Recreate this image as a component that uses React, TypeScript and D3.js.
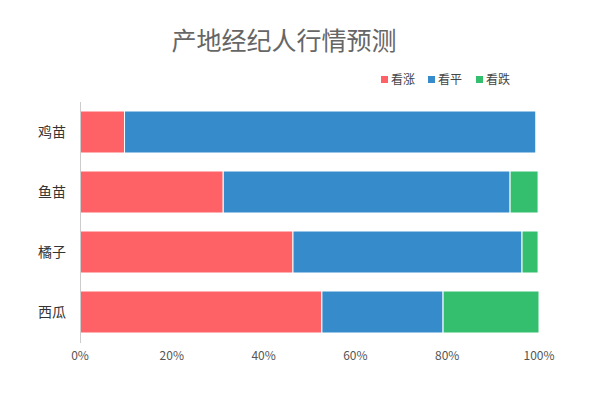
import { useEffect, useRef } from 'react';
import * as d3 from 'd3';

const categories = ['鸡苗', '鱼苗', '橘子', '西瓜'];
const seriesNames = ['看涨', '看平', '看跌'];
const up = [9.7, 31.2, 46.4, 52.7];
const flat = [89.6, 62.5, 49.9, 26.4];
const down = [0, 6.1, 3.5, 20.9];
const xTicks = [0, 20, 40, 60, 80, 100];
const colors = ['#fe6266', '#368ccb', '#34bf6f'];

const FONT = '"Noto Sans CJK SC", "Microsoft YaHei", sans-serif';

const App = () => {
    const svgRef = useRef<SVGSVGElement>(null);

    useEffect(() => {
        const svg = d3.select(svgRef.current);
        svg.selectAll('*').remove();

        const x = d3.scaleLinear().domain([0, 100]).range([80, 539]);
        const y = d3.scaleBand().domain(categories).range([102, 342]).paddingInner(0.3).paddingOuter(0.15);

        const rows = categories.map((c, i) => ({ cat: c, 看涨: up[i], 看平: flat[i], 看跌: down[i] }));
        const stacked = d3.stack<any>().keys(seriesNames)(rows);

        // title
        svg.append('text').attr('x', 284).attr('y', 50).attr('text-anchor', 'middle')
            .style('font-family', FONT).style('font-size', '25px').attr('fill', '#666').text('产地经纪人行情预测');

        // legend
        const legendX = [381, 428, 476];
        seriesNames.forEach((name, i) => {
            svg.append('rect').attr('x', legendX[i]).attr('y', 76).attr('width', 7).attr('height', 7).attr('fill', colors[i]);
            svg.append('text').attr('x', legendX[i] + 10).attr('y', 84).style('font-family', FONT).style('font-size', '12px')
                .attr('fill', '#444').text(name);
        });

        // bars
        stacked.forEach((layer, si) => {
            svg.append('g').selectAll('rect').data(layer).enter().append('rect')
                .attr('x', (d) => x(d[0]))
                .attr('y', (d) => y(d.data.cat)!)
                .attr('width', (d) => Math.max(0, x(d[1]) - x(d[0])))
                .attr('height', y.bandwidth())
                .attr('fill', colors[si])
                .attr('stroke', '#fff').attr('stroke-width', 1);
        });

        // left axis
        svg.append('line').attr('x1', 80.5).attr('x2', 80.5).attr('y1', 102).attr('y2', 343).attr('stroke', '#ccc');
        svg.append('g').selectAll('text').data(categories).enter().append('text')
            .attr('x', 66).attr('y', (d) => y(d)! + y.bandwidth() / 2 + 5).attr('text-anchor', 'end')
            .style('font-family', FONT).style('font-size', '14px').attr('fill', '#333').text((d) => d);

        // bottom ticks
        svg.append('g').selectAll('text').data(xTicks).enter().append('text')
            .attr('x', (d) => x(d)).attr('y', 360).attr('text-anchor', 'middle')
            .style('font-family', FONT).style('font-size', '12px').attr('fill', '#555').text((d) => d + '%');
    }, []);

    return <svg ref={svgRef} width={600} height={393} style={{ position: 'absolute', left: 0, top: 0 }}></svg>;
};

export default App;
